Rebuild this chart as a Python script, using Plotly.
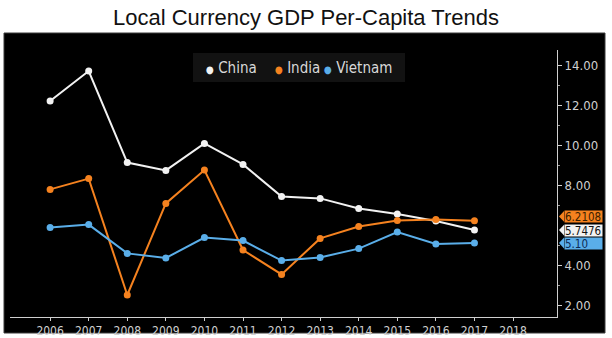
import plotly.graph_objects as go

years = [2006, 2007, 2008, 2009, 2010, 2011, 2012, 2013, 2014, 2015, 2016, 2017]
china = [12.2, 13.7, 9.12, 8.73, 10.08, 9.03, 7.42, 7.33, 6.83, 6.55, 6.2, 5.7476]
india = [7.78, 8.32, 2.5, 7.08, 8.75, 4.75, 3.53, 5.33, 5.92, 6.23, 6.28, 6.2108]
vietnam = [5.87, 6.02, 4.58, 4.35, 5.37, 5.22, 4.22, 4.38, 4.82, 5.65, 5.05, 5.10]
x_ticks = list(range(2006, 2019))
y_ticks = [2, 4, 8, 10, 12, 14]
y_minor = [3, 5, 7, 9, 11, 13]

series = [
    ("China", china, "#f2f2f2", "5.7476", "#111111"),
    ("India", india, "#f5821f", "6.2108", "#3a2000"),
    ("Vietnam", vietnam, "#5aaee9", "5.10", "#0d2a55"),
]

FONT = "Liberation Sans Narrow, DejaVu Sans Condensed, Arial Narrow, sans-serif"

fig = go.Figure()
for name, vals, col, _, _ in series:
    fig.add_trace(go.Scatter(
        x=years, y=vals, mode="lines+markers", name=name,
        line=dict(color=col, width=2), marker=dict(color=col, size=7),
        showlegend=False,
    ))

W, H = 612, 338
ml, mr, mt, mb = 10, 55, 50, 21
pw, ph = W - ml - mr, H - mt - mb

def px_x(p):
    return (p - ml) / pw

def px_y(p):
    return (H - mb - p) / ph

shapes = [
    dict(type="rect", xref="paper", yref="paper",
         x0=px_x(4), x1=px_x(605), y0=px_y(333), y1=px_y(33),
         fillcolor="black", line=dict(color="#3a3a3a", width=1), layer="below"),
    # legend background
    dict(type="rect", xref="paper", yref="paper",
         x0=px_x(193), x1=px_x(405), y0=px_y(82), y1=px_y(53),
         fillcolor="#121212", line=dict(width=0), layer="above"),
]

annotations = []
# legend entries
leg_pos = [204, 273, 322]
for (name, vals, col, _, _), xp in zip(series, leg_pos):
    annotations.append(dict(
        xref="paper", yref="paper", x=px_x(xp), y=px_y(67.5),
        xanchor="left", yanchor="middle", showarrow=False,
        text=f'<span style="color:{col};font-size:10px">●</span> {name}',
        font=dict(family=FONT, size=15, color="#d8d8d8"),
    ))

# value tags at last values (orange first, white, blue on top)
order = [1, 0, 2]
nudge = {1: 0.22, 0: 0.0, 2: 0.0}
for i in order:
    name, vals, col, label, tcol = series[i]
    v = vals[-1] + nudge[i]
    x_left = px_x(564)
    x_tip = px_x(559)
    half = 0.27
    shapes.append(dict(
        type="path", xref="paper", yref="y",
        path=f"M {x_tip} {v} L {x_left+0.0001} {v+half} L {x_left+0.0001} {v-half} Z",
        fillcolor=col, line=dict(width=0), layer="above",
    ))
    annotations.append(dict(
        xref="paper", yref="y", x=x_left, y=v,
        xanchor="left", yanchor="middle", showarrow=False,
        text=label, bgcolor=col, width=37, height=11, align="left",
        borderpad=0,
        font=dict(family=FONT, size=11.5, color=tcol),
    ))

fig.update_layout(
    width=W, height=H,
    margin=dict(l=ml, r=mr, t=mt, b=mb),
    paper_bgcolor="white", plot_bgcolor="black",
    title=dict(text="Local Currency GDP Per-Capita Trends", x=0.5, xref="container",
               xanchor="center", y=1 - 17 / H, yanchor="middle",
               font=dict(family="Liberation Sans, Arial, sans-serif", size=22, color="#111111")),
    xaxis=dict(range=[2004.96, 2019.14], tickvals=x_ticks, ticktext=[str(t) for t in x_ticks],
               automargin=False,
               showgrid=False, zeroline=False, showline=True, linecolor="#cfcfcf", linewidth=1,
               ticks="outside", ticklen=3, tickcolor="#cfcfcf",
               tickfont=dict(family=FONT, size=12, color="#d0d0d0")),
    yaxis=dict(range=[1.4, 14.75], side="right", tickvals=y_ticks,
               ticktext=[f"{t:.2f}" for t in y_ticks], automargin=False,
               showgrid=False, zeroline=False, showline=True, linecolor="#cfcfcf", linewidth=1,
               ticks="outside", ticklen=4, tickcolor="#cfcfcf",
               minor=dict(tickvals=y_minor, ticks="outside", ticklen=2, tickcolor="#9a9a9a"),
               tickfont=dict(family=FONT, size=13, color="#d0d0d0")),
    shapes=shapes, annotations=annotations,
)

fig.write_html("out.html")
